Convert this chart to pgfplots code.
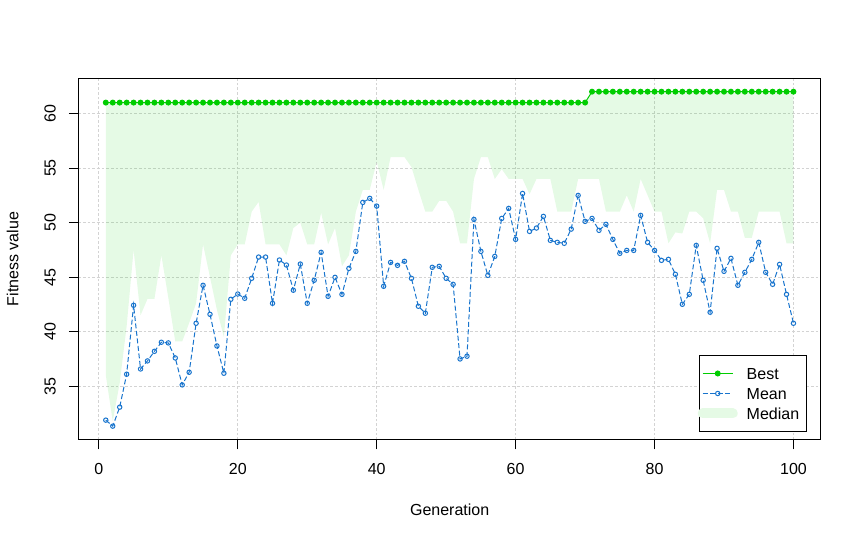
\documentclass[border=0pt]{standalone}
\usepackage{fontspec}
\setmainfont{Liberation Sans}
\usepackage{pgfplots}
\pgfplotsset{compat=1.18}
\usepackage{pgfplotstable}
\definecolor{greenthree}{HTML}{00CD00}
\definecolor{dodgerbluethree}{HTML}{1874CD}
\definecolor{medfill}{HTML}{E5FAE5}
\definecolor{gridgray}{HTML}{D3D3D3}
\pgfplotstableread{
gen best mean median
1 61 31.89 36.0
2 61 31.34 31.8
3 61 33.08 35.3
4 61 36.10 40.5
5 61 42.42 47.5
6 61 36.58 41.5
7 61 37.32 43.0
8 61 38.20 43.0
9 61 39.03 47.0
10 61 38.97 43.1
11 61 37.59 39.1
12 61 35.12 39.1
13 61 36.28 40.8
14 61 40.77 42.6
15 61 44.25 48.0
16 61 41.59 45.0
17 61 38.69 42.0
18 61 36.19 39.5
19 61 42.97 47.0
20 61 43.45 48.0
21 61 43.06 48.0
22 61 44.89 51.0
23 61 46.84 51.9
24 61 46.84 48.0
25 61 42.60 48.0
26 61 46.57 48.0
27 61 46.11 47.0
28 61 43.80 49.5
29 61 46.20 50.0
30 61 42.60 48.0
31 61 44.71 48.0
32 61 47.27 50.9
33 61 43.24 48.0
34 61 44.98 49.5
35 61 43.42 46.0
36 61 45.80 47.0
37 61 47.36 51.0
38 61 51.85 53.0
39 61 52.22 53.0
40 61 51.51 55.6
41 61 44.16 53.0
42 61 46.35 56.0
43 61 46.08 56.0
44 61 46.45 56.0
45 61 44.89 55.1
46 61 42.33 53.0
47 61 41.69 51.0
48 61 45.90 51.0
49 61 45.99 52.0
50 61 44.89 52.0
51 61 44.34 51.0
52 61 37.50 48.1
53 61 37.75 48.1
54 61 50.29 54.0
55 61 47.36 56.0
56 61 45.16 56.0
57 61 46.90 54.0
58 61 50.38 54.9
59 61 51.30 54.0
60 61 48.46 54.0
61 61 52.67 54.0
62 61 49.19 52.6
63 61 49.50 54.0
64 61 50.57 54.0
65 61 48.37 54.0
66 61 48.19 51.0
67 61 48.10 51.0
68 61 49.40 51.0
69 61 52.49 54.0
70 61 50.11 54.0
71 62 50.38 54.0
72 62 49.29 54.0
73 62 49.84 51.0
74 62 48.46 51.0
75 62 47.18 51.0
76 62 47.45 52.5
77 62 47.45 51.0
78 62 50.66 54.0
79 62 48.19 52.5
80 62 47.45 51.0
81 62 46.54 51.0
82 62 46.63 48.1
83 62 45.26 49.1
84 62 42.51 49.0
85 62 43.42 51.0
86 62 47.91 51.0
87 62 44.71 50.4
88 62 41.78 48.1
89 62 47.64 53.0
90 62 45.53 53.0
91 62 46.72 51.0
92 62 44.25 51.0
93 62 45.44 48.6
94 62 46.63 48.6
95 62 48.19 51.0
96 62 45.44 51.0
97 62 44.34 51.0
98 62 46.17 51.0
99 62 43.42 48.1
100 62 40.77 48.1
}\gadata
% polygon between best (forward) and median (reversed)
\pgfplotstableread{
x y
1 61
70 61
71 62
100 62
100 48.1
99 48.1
98 51.0
97 51.0
96 51.0
95 51.0
94 48.6
93 48.6
92 51.0
91 51.0
90 53.0
89 53.0
88 48.1
87 50.4
86 51.0
85 51.0
84 49.0
83 49.1
82 48.1
81 51.0
80 51.0
79 52.5
78 54.0
77 51.0
76 52.5
75 51.0
74 51.0
73 51.0
72 54.0
71 54.0
70 54.0
69 54.0
68 51.0
67 51.0
66 51.0
65 54.0
64 54.0
63 54.0
62 52.6
61 54.0
60 54.0
59 54.0
58 54.9
57 54.0
56 56.0
55 56.0
54 54.0
53 48.1
52 48.1
51 51.0
50 52.0
49 52.0
48 51.0
47 51.0
46 53.0
45 55.1
44 56.0
43 56.0
42 56.0
41 53.0
40 55.6
39 53.0
38 53.0
37 51.0
36 47.0
35 46.0
34 49.5
33 48.0
32 50.9
31 48.0
30 48.0
29 50.0
28 49.5
27 47.0
26 48.0
25 48.0
24 48.0
23 51.9
22 51.0
21 48.0
20 48.0
19 47.0
18 39.5
17 42.0
16 45.0
15 48.0
14 42.6
13 40.8
12 39.1
11 39.1
10 43.1
9 47.0
8 43.0
7 43.0
6 41.5
5 47.5
4 40.5
3 35.3
2 31.8
1 36.0
}\bandpoly
\begin{document}
\begin{tikzpicture}[font=\fontsize{12}{14.4}\selectfont]
\begin{axis}[
  at={(58.725pt,73.5pt)}, anchor=south west,
  scale only axis, width=557pt, height=271.3pt,
  xmin=-2.96, xmax=103.96, ymin=30.07, ymax=63.23,
  xtick={0,20,40,60,80,100},
  ytick={35,40,45,50,55,60},
  /pgf/number format/assume math mode=true,
  tick align=outside, major tick length=7pt,
  xtick pos=bottom, ytick pos=left,
  tick style={black, line width=0.75pt},
  axis line style={black, line width=0.75pt},
  grid=major,
  grid style={gridgray, dash pattern=on 2pt off 1.5pt, line width=0.75pt},
  xticklabel style={anchor=north, inner sep=0pt, yshift=-10.25pt},
  yticklabel style={xshift=-9.75pt, rotate=90, anchor=south, inner sep=0pt},
  xlabel={Generation},
  ylabel={Fitness value},
  xlabel style={at={(axis description cs:0.5,-0.20734)}, anchor=base, inner sep=0pt},
  ylabel style={at={(axis description cs:-0.08079,0.5)}, rotate=0, anchor=base, inner sep=0pt},
  legend cell align=left,
  legend image code/.code={\draw[mark repeat=2,mark phase=2,#1] plot coordinates {(0pt,0pt)(11.25pt,0pt)(22.5pt,0pt)};},
  legend style={at={(axis description cs:0.98079,0.02212)}, anchor=south east,
    draw=black, line width=0.75pt, fill=white,
    inner xsep=-1.5pt, inner ysep=9.2pt, row sep=6.4pt, column sep=0pt,
    nodes={inner ysep=0pt, inner xsep=6.75pt, text height=8.6pt, text depth=0pt}},
]
\addplot[fill=greenthree, fill opacity=0.102, draw=none, forget plot] table[x=x, y=y] {\bandpoly} -- cycle;
\addplot[draw=greenthree, line width=0.75pt, mark=*, mark size=1.85pt, mark options={solid, fill=greenthree, draw=greenthree}] table[x=gen, y=best] {\gadata};
\addplot[draw=dodgerbluethree, line width=0.75pt, dash pattern=on 3.75pt off 1.9pt, mark=o, mark size=1.65pt, mark options={solid, draw=dodgerbluethree}] table[x=gen, y=mean] {\gadata};
\addlegendimage{draw=medfill, line width=7.5pt, line cap=round}
\legend{Best,Mean,Median}
\end{axis}
\path (0,0) rectangle (646.5pt,403.5pt);
\end{tikzpicture}
\end{document}
